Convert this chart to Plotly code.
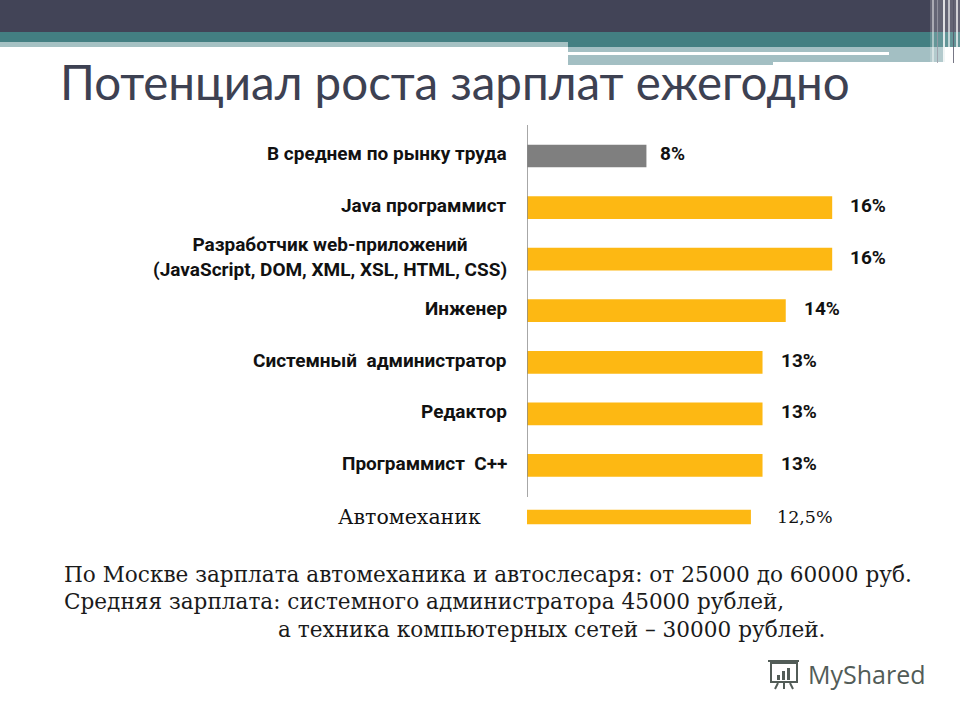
import plotly.graph_objects as go

# ---------------- data ----------------
categories = [
    "В среднем по рынку труда",
    "Java программист",
    "Разработчик web-приложений<br>(JavaScript, DOM, XML, XSL, HTML, CSS)",
    "Инженер",
    "Системный  администратор",
    "Редактор",
    "Программист  C++",
    "Автомеханик",
]
values = [8, 16, 16, 14, 13, 13, 13, 12.5]
value_labels = ["8%", "16%", "16%", "14%", "13%", "13%", "13%", "12,5%"]

title_text = "Потенциал роста зарплат ежегодно"
notes = [
    "По Москве зарплата автомеханика и автослесаря: от 25000 до 60000 руб.",
    "Средняя зарплата: системного администратора 45000 рублей,",
    "а техника компьютерных сетей – 30000 рублей.",
]

# ---------------- styling ----------------
W, H = 960, 720
def px(x):
    return x / W
def py(y):
    return 1 - y / H

GRAY = "#7f7f7f"
ORANGE = "#FDB813"
NARROW = "Roboto, Liberation Sans, Arial, sans-serif"
SERIF = "DejaVu Serif, Georgia, serif"

x_start = 2.857
x_end = 18.92

main_cats = categories[:7]
main_vals = values[:7]
main_colors = [GRAY] + [ORANGE] * 6

fig = go.Figure()
fig.add_trace(go.Bar(
    y=main_cats, x=main_vals, orientation="h",
    marker=dict(color=main_colors, line=dict(width=0)),
    width=0.44, hoverinfo="skip",
))
fig.add_trace(go.Bar(
    y=categories[7:], x=values[7:], orientation="h",
    marker=dict(color=ORANGE, line=dict(width=0)),
    width=0.28, hoverinfo="skip",
))

annotations = []
# category labels
for i, c in enumerate(categories):
    serif = (i == 7)
    annotations.append(dict(
        xref="x", yref="y", x=x_start, y=c, text=c,
        xanchor="right", yanchor="middle", align="center",
        xshift=-44 if serif else -18, yshift=0 if serif else 2,
        showarrow=False,
        font=dict(family=SERIF if serif else NARROW, size=20.5 if serif else 19,
                  color="#111111", weight="normal" if serif else "bold"),
    ))
# value labels
for i, (c, v, t) in enumerate(zip(categories, values, value_labels)):
    serif = (i == 7)
    annotations.append(dict(
        xref="x", yref="y", x=v, y=c, text=t,
        xanchor="left", yanchor="middle",
        xshift=24 if serif else (12 if i == 0 else 16), yshift=0 if serif else 2,
        showarrow=False,
        font=dict(family=SERIF if serif else NARROW, size=17.5 if serif else 19,
                  color="#111111", weight="normal" if serif else "bold"),
    ))
# title
annotations.append(dict(
    xref="paper", yref="paper", x=px(58), y=py(81), text=title_text,
    xanchor="left", yanchor="middle", showarrow=False,
    font=dict(family="Lato, Noto Sans, sans-serif", size=47.5, color="#3d4152"),
))
# notes
note_pos = [(62, 574), (62, 601), (276, 629)]
for t, (nx, ny) in zip(notes, note_pos):
    annotations.append(dict(
        xref="paper", yref="paper", x=px(nx), y=py(ny), text=t,
        xanchor="left", yanchor="middle", showarrow=False,
        font=dict(family=SERIF, size=21.6, color="#1a1a1a"),
    ))
# logo text
annotations.append(dict(
    xref="paper", yref="paper", x=px(806), y=py(674), text="MyShared",
    xanchor="left", yanchor="middle", showarrow=False,
    font=dict(family="Open Sans, Noto Sans, sans-serif", size=25, color="#525c57"),
))

def rect(x0, y0, x1, y1, color, opacity=1.0):
    return dict(type="rect", xref="paper", yref="paper",
                x0=px(x0), x1=px(x1), y0=py(y1), y1=py(y0),
                fillcolor=color, line=dict(width=0), opacity=opacity, layer="below")

shapes = [
    rect(0, 0, 960, 32, "#424457"),
    rect(0, 32, 960, 42, "#437f82"),
    rect(568, 42, 960, 47, "#437f82"),
    rect(0, 42, 568, 47, "#a5c1c3"),
    rect(568, 47, 945, 62, "#a3bfc3"),
    rect(568, 62, 773, 65, "#a3bfc3"),
    rect(568, 52, 889, 55, "#ffffff"),
    # right-edge stripes
    rect(930, 0, 960, 63, "#ffffff", 0.18),
    rect(932, 0, 934, 63, "#ffffff", 0.45),
    rect(937, 0, 938, 63, "#9a9aa6", 0.8),
    rect(943, 0, 945, 63, "#ffffff", 0.8),
    rect(948, 0, 950, 63, "#ffffff", 0.6),
    rect(953, 0, 954, 63, "#555566", 0.8),
    rect(956, 0, 958, 63, "#ffffff", 0.7),
    # logo icon
    dict(type="rect", xref="paper", yref="paper", x0=px(771), x1=px(797),
         y0=py(682), y1=py(663), line=dict(color="#525c57", width=2), fillcolor="rgba(0,0,0,0)"),
    dict(type="line", xref="paper", yref="paper", x0=px(768), x1=px(799),
         y0=py(661), y1=py(661), line=dict(color="#525c57", width=2)),
    rect(777, 675, 780, 680, "#525c57"),
    rect(782, 671, 785, 680, "#525c57"),
    rect(787, 668, 790, 680, "#525c57"),
    dict(type="line", xref="paper", yref="paper", x0=px(778), x1=px(775),
         y0=py(683), y1=py(689), line=dict(color="#525c57", width=2)),
    dict(type="line", xref="paper", yref="paper", x0=px(784), x1=px(784),
         y0=py(683), y1=py(689), line=dict(color="#525c57", width=2)),
    dict(type="line", xref="paper", yref="paper", x0=px(790), x1=px(793),
         y0=py(683), y1=py(689), line=dict(color="#525c57", width=2)),
    # value axis line
    dict(type="line", xref="x", yref="paper", x0=x_start, x1=x_start,
         y0=py(497), y1=py(125), line=dict(color="#8a8a8a", width=1.5)),
]

fig.update_layout(
    width=W, height=H,
    margin=dict(l=0, r=0, t=0, b=0, pad=0),
    paper_bgcolor="white", plot_bgcolor="rgba(0,0,0,0)",
    showlegend=False, barmode="overlay",
    xaxis=dict(domain=[px(527), px(900)], range=[x_start, x_end],
               visible=False, fixedrange=True),
    yaxis=dict(domain=[py(542.8), py(130.2)], type="category",
               categoryorder="array", categoryarray=categories,
               range=[len(categories) - 0.5, -0.5],
               visible=False, fixedrange=True),
    annotations=annotations, shapes=shapes,
)

fig.write_html("out.html", config={"displayModeBar": False},
               post_script="document.body.style.margin='0';document.body.style.padding='0';")
